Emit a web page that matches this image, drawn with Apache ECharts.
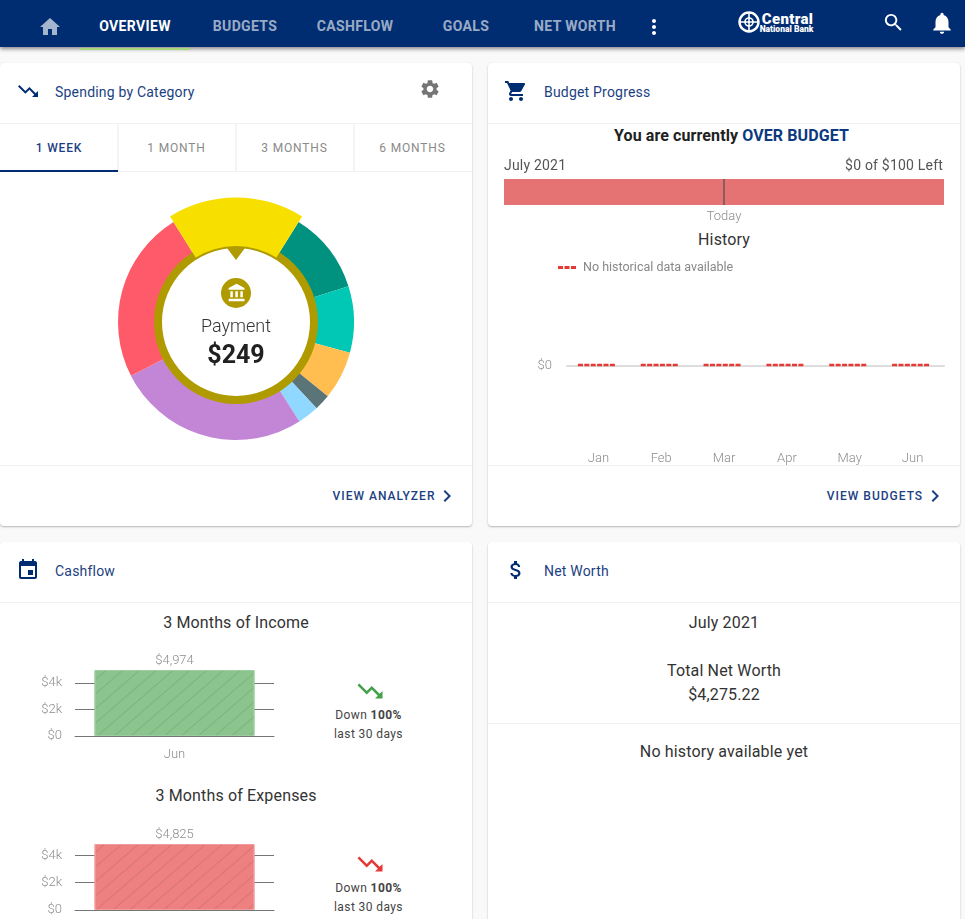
<!DOCTYPE html>
<html>
<head>
<meta charset="utf-8">
<script src="https://cdn.jsdelivr.net/npm/echarts@6/dist/echarts.min.js"></script>
<style>
html, body { margin: 0; padding: 0; width: 965px; height: 919px; overflow: hidden; background: #f9f9f9; font-family: Roboto, sans-serif; color: #333; }
.abs, .t, .ic, .card, .chart { position: absolute; }
.t { white-space: nowrap; line-height: 20px; transform: translateY(-10px); }
.c { transform: translate(-50%, -10px); text-align: center; }
.r { transform: translate(-100%, -10px); }
#nav { left: 0; top: 0; width: 965px; height: 47px; background: #002d72; box-shadow: 0 2px 4px rgba(0,0,0,.45); z-index: 5; }
.nav { font-size: 14px; font-weight: 700; color: rgba(255,255,255,.62); letter-spacing: .35px; }
.card { background: #fff; border-radius: 4px; box-shadow: 0 1px 2px rgba(0,0,0,.28); }
.line { position: absolute; height: 1px; background: #f1f1f1; }
.title { font-size: 14px; color: #1c3f82; letter-spacing: .2px; }
.big { font-size: 16px; color: #333; letter-spacing: .15px; }
.tab { font-size: 12px; font-weight: 400; letter-spacing: .85px; color: #8a8a8a; }
.more { font-size: 12px; font-weight: 500; letter-spacing: 1px; color: #1c3f82; }
.small { font-size: 12px; color: #444; letter-spacing: .4px; }
.ic { fill: #002d72; }
</style>
</head>
<body>
<div id="nav" class="abs"></div>
<div class="abs" style="left:80px;top:48px;width:110px;height:2px;background:#a5d67a;z-index:6"></div>

<div class="card" style="left:0;top:63px;width:472px;height:463px"></div>
<div class="card" style="left:488px;top:63px;width:472px;height:463px"></div>
<div class="card" style="left:0;top:542px;width:472px;height:400px"></div>
<div class="card" style="left:488px;top:542px;width:472px;height:400px"></div>

<div class="line" style="left:0;top:123px;width:472px"></div>
<div class="line" style="left:488px;top:123px;width:472px"></div>
<div class="line" style="left:0;top:171px;width:472px"></div>
<div class="line" style="left:0;top:465px;width:472px"></div>
<div class="line" style="left:488px;top:465px;width:472px"></div>
<div class="line" style="left:0;top:602px;width:472px"></div>
<div class="line" style="left:488px;top:602px;width:472px"></div>
<div class="line" style="left:488px;top:723px;width:472px"></div>
<div class="abs" style="left:117px;top:124px;width:2px;height:47px;background:#f4f4f4"></div>
<div class="abs" style="left:235px;top:124px;width:2px;height:47px;background:#f4f4f4"></div>
<div class="abs" style="left:353px;top:124px;width:2px;height:47px;background:#f4f4f4"></div>
<div class="abs" style="left:0;top:170px;width:118px;height:2px;background:#002d72"></div>

<div id="spendChart" class="chart" style="left:0;top:173px;width:472px;height:290px"></div>
<div id="budgetChart" class="chart" style="left:488px;top:170px;width:472px;height:55px"></div>
<div id="historyChart" class="chart" style="left:488px;top:250px;width:472px;height:215px"></div>
<div id="incomeChart" class="chart" style="left:0;top:645px;width:300px;height:120px"></div>
<div id="expenseChart" class="chart" style="left:0;top:818px;width:300px;height:120px"></div>

<div id="texts"></div>
<div id="icons"></div>

<script>
// spending donut
var spendNames = ['Payment', 'Category 2', 'Category 3', 'Category 4', 'Category 5', 'Category 6', 'Category 7', 'Category 8'];
var spendValues = [249, 157, 127, 93, 31, 41, 371, 331];
var spendColors = ['#f7e000', '#00917f', '#00c8b4', '#ffbe4f', '#5b7478', '#90d8ff', '#c386d6', '#ff5a6a'];
var selectedValue = [249];

// budget progress
var budgetSpent = [100];
var budgetTotal = 100;
var todayPos = [50];
var historyMonths = ['Jan', 'Feb', 'Mar', 'Apr', 'May', 'Jun'];
var historyBudget = [0, 0, 0, 0, 0, 0];

// cashflow
var incomeMonths = ['Jun'];
var incomeValues = [4974];
var expenseMonths = ['Jun'];
var expenseValues = [4825];

var P = {
  home: 'M10 20v-6h4v6h5v-8h3L12 3 2 12h3v8z',
  gear: 'M19.14 12.94c.04-.3.06-.61.06-.94 0-.32-.02-.64-.07-.94l2.03-1.58c.18-.14.23-.41.12-.61l-1.92-3.32c-.12-.22-.37-.29-.59-.22l-2.39.96c-.5-.38-1.03-.7-1.62-.94l-.36-2.54c-.04-.24-.24-.41-.48-.41h-3.84c-.24 0-.43.17-.47.41l-.36 2.54c-.59.24-1.13.57-1.62.94l-2.39-.96c-.22-.08-.47 0-.59.22L2.74 8.87c-.12.21-.08.47.12.61l2.03 1.58c-.05.3-.09.63-.09.94s.02.64.07.94l-2.03 1.58c-.18.14-.23.41-.12.61l1.92 3.32c.12.22.37.29.59.22l2.39-.96c.5.38 1.03.7 1.62.94l.36 2.54c.05.24.24.41.48.41h3.84c.24 0 .44-.17.47-.41l.36-2.54c.59-.24 1.13-.56 1.62-.94l2.39.96c.22.08.47 0 .59-.22l1.92-3.32c.12-.22.07-.47-.12-.61l-2.01-1.58zM12 15.6c-1.98 0-3.6-1.62-3.6-3.6s1.62-3.6 3.6-3.6 3.6 1.62 3.6 3.6-1.62 3.6-3.6 3.6z',
  down: 'M16 18l2.29-2.29-4.88-4.88-4 4L2 7.41 3.41 6l6 6 4-4 6.3 6.29L22 12v6z',
  cart: 'M7 18c-1.1 0-1.99.9-1.99 2S5.9 22 7 22s2-.9 2-2-.9-2-2-2zM1 2v2h2l3.6 7.59-1.35 2.45c-.16.28-.25.61-.25.96 0 1.1.9 2 2 2h12v-2H7.42c-.14 0-.25-.11-.25-.25l.03-.12.9-1.63h7.45c.75 0 1.41-.41 1.75-1.03l3.58-6.49c.08-.14.12-.31.12-.48 0-.55-.45-1-1-1H5.21l-.94-2H1zm16 16c-1.1 0-1.99.9-1.99 2s.89 2 1.99 2 2-.9 2-2-.9-2-2-2z',
  search: 'M15.5 14h-.79l-.28-.27C15.41 12.59 16 11.11 16 9.5 16 5.91 13.09 3 9.5 3S3 5.91 3 9.5 5.91 16 9.5 16c1.61 0 3.09-.59 4.23-1.57l.27.28v.79l5 4.99L20.49 19l-4.99-5zm-6 0C7.01 14 5 11.99 5 9.5S7.01 5 9.5 5 14 7.01 14 9.5 11.99 14 9.5 14z',
  bell: 'M12 22c1.1 0 2-.9 2-2h-4c0 1.1.89 2 2 2zm6-6v-5c0-3.07-1.64-5.64-4.5-6.32V4c0-.83-.67-1.5-1.5-1.5s-1.5.67-1.5 1.5v.68C7.63 5.36 6 7.92 6 11v5l-2 2v1h16v-1l-2-2z',
  dots: 'M12 8c1.1 0 2-.9 2-2s-.9-2-2-2-2 .9-2 2 .9 2 2 2zm0 2c-1.1 0-2 .9-2 2s.9 2 2 2 2-.9 2-2-.9-2-2-2zm0 6c-1.1 0-2 .9-2 2s.9 2 2 2 2-.9 2-2-.9-2-2-2z',
  chev: 'M10 6L8.59 7.41 13.17 12l-4.58 4.59L10 18l6-6z',
  event: 'M17 12h-5v5h5v-5zM16 1v2H8V1H6v2H5c-1.11 0-1.99.9-1.99 2L3 19c0 1.1.89 2 2 2h14c1.1 0 2-.9 2-2V5c0-1.1-.9-2-2-2h-1V1h-2zm3 18H5V8h14v11z',
  money: 'M11.8 10.9c-2.27-.59-3-1.2-3-2.15 0-1.09 1.01-1.85 2.7-1.85 1.78 0 2.44.85 2.5 2.1h2.21c-.07-1.72-1.12-3.3-3.21-3.81V3h-3v2.16c-1.94.42-3.5 1.68-3.5 3.61 0 2.31 1.91 3.46 4.7 4.13 2.5.6 3 1.48 3 2.41 0 .69-.49 1.79-2.7 1.79-2.06 0-2.87-.92-2.98-2.1h-2.2c.12 2.19 1.76 3.42 3.68 3.83V21h3v-2.15c1.95-.37 3.5-1.5 3.5-3.55 0-2.84-2.43-3.81-4.7-4.4z',
  bank: 'M4 10v7h3v-7H4zm6 0v7h3v-7h-3zM2 22h19v-3H2v3zm14-12v7h3v-7h-3zm-4.5-9L2 6v2h19V6l-9.5-5z'
};

// cx, cy = centre of the icon box
function icon(name, cx, cy, size, color, z) {
  var h = '<svg class="ic" viewBox="0 0 24 24" width="' + size + '" height="' + size + '" style="left:' + (cx - size / 2) + 'px;top:' + (cy - size / 2) + 'px;fill:' + color + ';z-index:' + (z || 6) + '"><path d="' + P[name] + '"/></svg>';
  document.getElementById('icons').insertAdjacentHTML('beforeend', h);
}
function text(s, x, y, cls, style) {
  var h = '<div class="t ' + cls + '" style="left:' + x + 'px;top:' + y + 'px;' + (style || '') + '">' + s + '</div>';
  document.getElementById('texts').insertAdjacentHTML('beforeend', h);
}

// top bar
var navZ = 'z-index:6;';
text('OVERVIEW', 135, 26, 'nav c', navZ + 'color:#fff');
text('BUDGETS', 245, 26, 'nav c', navZ);
text('CASHFLOW', 355, 26, 'nav c', navZ);
text('GOALS', 466, 26, 'nav c', navZ);
text('NET WORTH', 575, 26, 'nav c', navZ);
icon('home', 50, 27, 24, 'rgba(255,255,255,.65)');
icon('dots', 654, 27, 24, '#fff');
icon('search', 893.5, 22.5, 23, '#fff');
icon('bell', 942, 23, 26, '#fff');
text('Central', 787.5, 18.5, 'c', navZ + 'font-size:15px;font-weight:900;color:#fff;letter-spacing:.3px');
text('National Bank', 786.5, 28.5, 'c', navZ + 'font-size:8.5px;font-weight:900;color:#fff');
document.getElementById('icons').insertAdjacentHTML('beforeend',
  '<svg class="abs" style="position:absolute;left:737px;top:10px;z-index:6" width="24" height="24" viewBox="0 0 24 24" fill="none" stroke="#fff"><circle cx="12" cy="12" r="9.5" stroke-width="2.4"/><circle cx="12" cy="12" r="4" stroke-width="1.6"/><path d="M12 2v20M2 12h20" stroke-width="1.6"/></svg>');

// spending card
icon('down', 28, 91, 24, '#002d72');
text('Spending by Category', 55, 92, 'title');
icon('gear', 430, 89, 22, '#757575');
text('1 WEEK', 59, 147.5, 'tab c', 'color:#1c3f82;font-weight:500');
text('1 MONTH', 176.5, 147.5, 'tab c');
text('3 MONTHS', 294.5, 147.5, 'tab c');
text('6 MONTHS', 412.5, 147.5, 'tab c');
text('VIEW ANALYZER', 384, 495.5, 'more c');
icon('chev', 447, 495.5, 24, '#1c3f82');

document.getElementById('icons').insertAdjacentHTML('beforeend',
  '<svg style="position:absolute;left:226px;top:247px;z-index:6" width="20" height="14"><path d="M1 1H19L10 13Z" fill="#af9b00"/></svg>' +
  '<div style="position:absolute;left:221px;top:278px;width:30px;height:30px;border-radius:50%;background:#af9b00;z-index:6"></div>');
icon('bank', 236.5, 292.5, 20, '#fff', 7);
text('Payment', 236, 326, 'c', 'font-size:18px;font-weight:300;color:#333;z-index:6');
text('$' + selectedValue[0], 236, 354.5, 'c', 'font-size:25px;font-weight:700;color:#212121;z-index:6');

// budget card
icon('cart', 516, 91, 24, '#002d72');
text('Budget Progress', 544, 92, 'title');
text('You are currently <span style="color:#0b3a80">OVER BUDGET</span>', 731.5, 136, 'c', 'font-size:16px;font-weight:700;color:#212121;letter-spacing:.1px');
text('July 2021', 504, 165, '', 'font-size:14px;color:#555;letter-spacing:.2px');
text('$0 of $100 Left', 943, 165, 'r', 'font-size:14px;color:#555;letter-spacing:.2px');
text('History', 724, 240, 'big c');
text('VIEW BUDGETS', 875, 495.5, 'more c');
icon('chev', 935, 495.5, 24, '#1c3f82');

// cashflow card
icon('event', 28, 570, 24, '#002d72');
text('Cashflow', 55, 571, 'title');
text('3 Months of Income', 236, 623, 'big c');
icon('down', 369.5, 691, 30, '#43a047');
text('Down <b>100%</b>', 368.5, 715, 'small c');
text('last 30 days', 368.5, 733.5, 'small c');
text('3 Months of Expenses', 236, 796, 'big c');
icon('down', 369.5, 864, 30, '#e53935');
text('Down <b>100%</b>', 368.5, 888, 'small c');
text('last 30 days', 368.5, 907, 'small c');

// net worth card
icon('money', 516, 570, 24, '#002d72');
text('Net Worth', 544, 571, 'title');
text('July 2021', 724, 623, 'big c');
text('Total Net Worth', 724, 671, 'big c');
text('$4,275.22', 724, 695, 'big c');
text('No history available yet', 724, 752, 'big c');

var axisGrey = '#8c8c8c';

// donut
var spendChart = echarts.init(document.getElementById('spendChart'));
spendChart.setOption({
  animation: false,
  series: [
    {
      type: 'pie',
      center: [236, 149],
      radius: [76, 118],
      startAngle: 122,
      clockwise: true,
      silent: true,
      label: { show: false },
      labelLine: { show: false },
      emphasis: { scale: true, scaleSize: 6.5, focus: 'none' },
      data: spendValues.map(function (v, i) {
        return {
          name: spendNames[i],
          value: v,
          itemStyle: { color: spendColors[i] },
          emphasis: { itemStyle: { color: spendColors[i] } }
        };
      })
    },
    {
      type: 'pie',
      center: [236, 149],
      radius: [74, 82],
      silent: true,
      label: { show: false },
      labelLine: { show: false },
      itemStyle: { color: '#af9b00' },
      data: selectedValue
    }
  ]
});
spendChart.dispatchAction({ type: 'highlight', seriesIndex: 0, dataIndex: 0 });

// budget bar
var budgetChart = echarts.init(document.getElementById('budgetChart'));
budgetChart.setOption({
  animation: false,
  grid: { left: 16, top: 9, width: 440, height: 26 },
  xAxis: { type: 'value', min: 0, max: budgetTotal, show: false },
  yAxis: { type: 'category', data: ['July 2021'], show: false },
  series: [{
    type: 'bar',
    data: budgetSpent,
    barWidth: 26,
    silent: true,
    itemStyle: { color: '#e57373' },
    markLine: {
      silent: true,
      symbol: 'none',
      lineStyle: { color: '#6b5555', width: 1.5, type: 'solid' },
      label: { show: true, position: 'start', formatter: 'Today', color: axisGrey, fontSize: 13, fontWeight: 300, fontFamily: 'Roboto', distance: 5 },
      data: [{ xAxis: todayPos[0] }]
    }
  }]
});

// history
var historyChart = echarts.init(document.getElementById('historyChart'));
historyChart.setOption({
  animation: false,
  textStyle: { fontFamily: 'Roboto' },
  legend: {
    left: 65,
    top: 6,
    itemWidth: 18,
    itemHeight: 3,
    itemGap: 7,
    icon: 'path://M0 0H5V3H0ZM6.5 0H11.5V3H6.5ZM13 0H18V3H13Z',
    textStyle: { color: '#888', fontSize: 12.5, fontFamily: 'Roboto', padding: [0, 0, 0, 2] },
    data: ['No historical data available']
  },
  grid: { left: 79, top: 17, width: 377, height: 100 },
  xAxis: {
    type: 'category',
    data: historyMonths,
    axisLine: { lineStyle: { color: '#ddd', width: 2 } },
    axisTick: { show: false },
    axisLabel: { color: axisGrey, fontSize: 13, fontWeight: 300, margin: 86 }
  },
  yAxis: {
    type: 'value',
    min: 0,
    max: 1,
    interval: 1,
    axisLine: { show: false },
    axisTick: { show: false },
    splitLine: { show: false },
    axisLabel: {
      color: axisGrey,
      fontSize: 13,
      fontWeight: 300,
      margin: 15,
      padding: [2, 0, 0, 0],
      formatter: function (v) { return v === 0 ? '$0' : ''; }
    }
  },
  series: [{
    name: 'No historical data available',
    type: 'custom',
    silent: true,
    itemStyle: { color: '#e53935' },
    data: historyBudget.map(function (v, i) { return [i, v]; }),
    renderItem: function (params, api) {
      var p = api.coord([api.value(0), api.value(1)]);
      return {
        type: 'line',
        shape: { x1: p[0] - 20.5, y1: p[1] - 1, x2: p[0] + 16.5, y2: p[1] - 1 },
        style: { stroke: '#e53935', lineWidth: 2.5, lineDash: [5, 1.4], fill: null }
      };
    }
  }]
});

// small hatched bar
function cashflowOption(months, values, fill, edge, top) {
  return {
    animation: false,
    textStyle: { fontFamily: 'Roboto' },
    grid: { left: 75, top: top, width: 199, height: 66 },
    xAxis: {
      type: 'category',
      data: months,
      axisLine: { lineStyle: { color: '#757575', width: 1 } },
      axisTick: { show: false },
      axisLabel: { color: axisGrey, fontSize: 13, fontWeight: 300, margin: 12 }
    },
    yAxis: {
      type: 'value',
      min: 0,
      max: values[0],
      interval: 2000,
      axisLine: { show: false },
      axisTick: { show: false },
      splitLine: { show: true, showMaxLine: false, lineStyle: { color: '#757575', width: 1 } },
      axisLabel: {
        color: axisGrey,
        fontSize: 13,
        fontWeight: 300,
        margin: 13,
        padding: [2, 0, 0, 0],
        formatter: function (v) {
          if (v === 0) return '$0';
          return v % 2000 === 0 ? '$' + v / 1000 + 'k' : '';
        }
      }
    },
    series: [{
      type: 'bar',
      data: values,
      barWidth: 160,
      silent: true,
      itemStyle: {
        color: fill,
        borderColor: edge,
        borderWidth: 1,
        decal: {
          symbol: 'rect',
          symbolSize: 1,
          color: 'rgba(0,0,0,0.09)',
          dashArrayX: [1, 0],
          dashArrayY: [1, 10],
          rotation: -Math.PI / 4.4
        }
      },
      label: {
        show: true,
        position: 'top',
        distance: 3,
        color: axisGrey,
        fontSize: 13,
        fontWeight: 300,
        formatter: function (p) { return '$' + p.value.toLocaleString('en-US'); }
      }
    }]
  };
}

var incomeChart = echarts.init(document.getElementById('incomeChart'));
incomeChart.setOption(cashflowOption(incomeMonths, incomeValues, '#8bc48d', '#9ccd9e', 25));
var expenseChart = echarts.init(document.getElementById('expenseChart'));
expenseChart.setOption(cashflowOption(expenseMonths, expenseValues, '#ee8080', '#f09c9c', 26));

console.log('overview charts drawn');
</script>
</body>
</html>
